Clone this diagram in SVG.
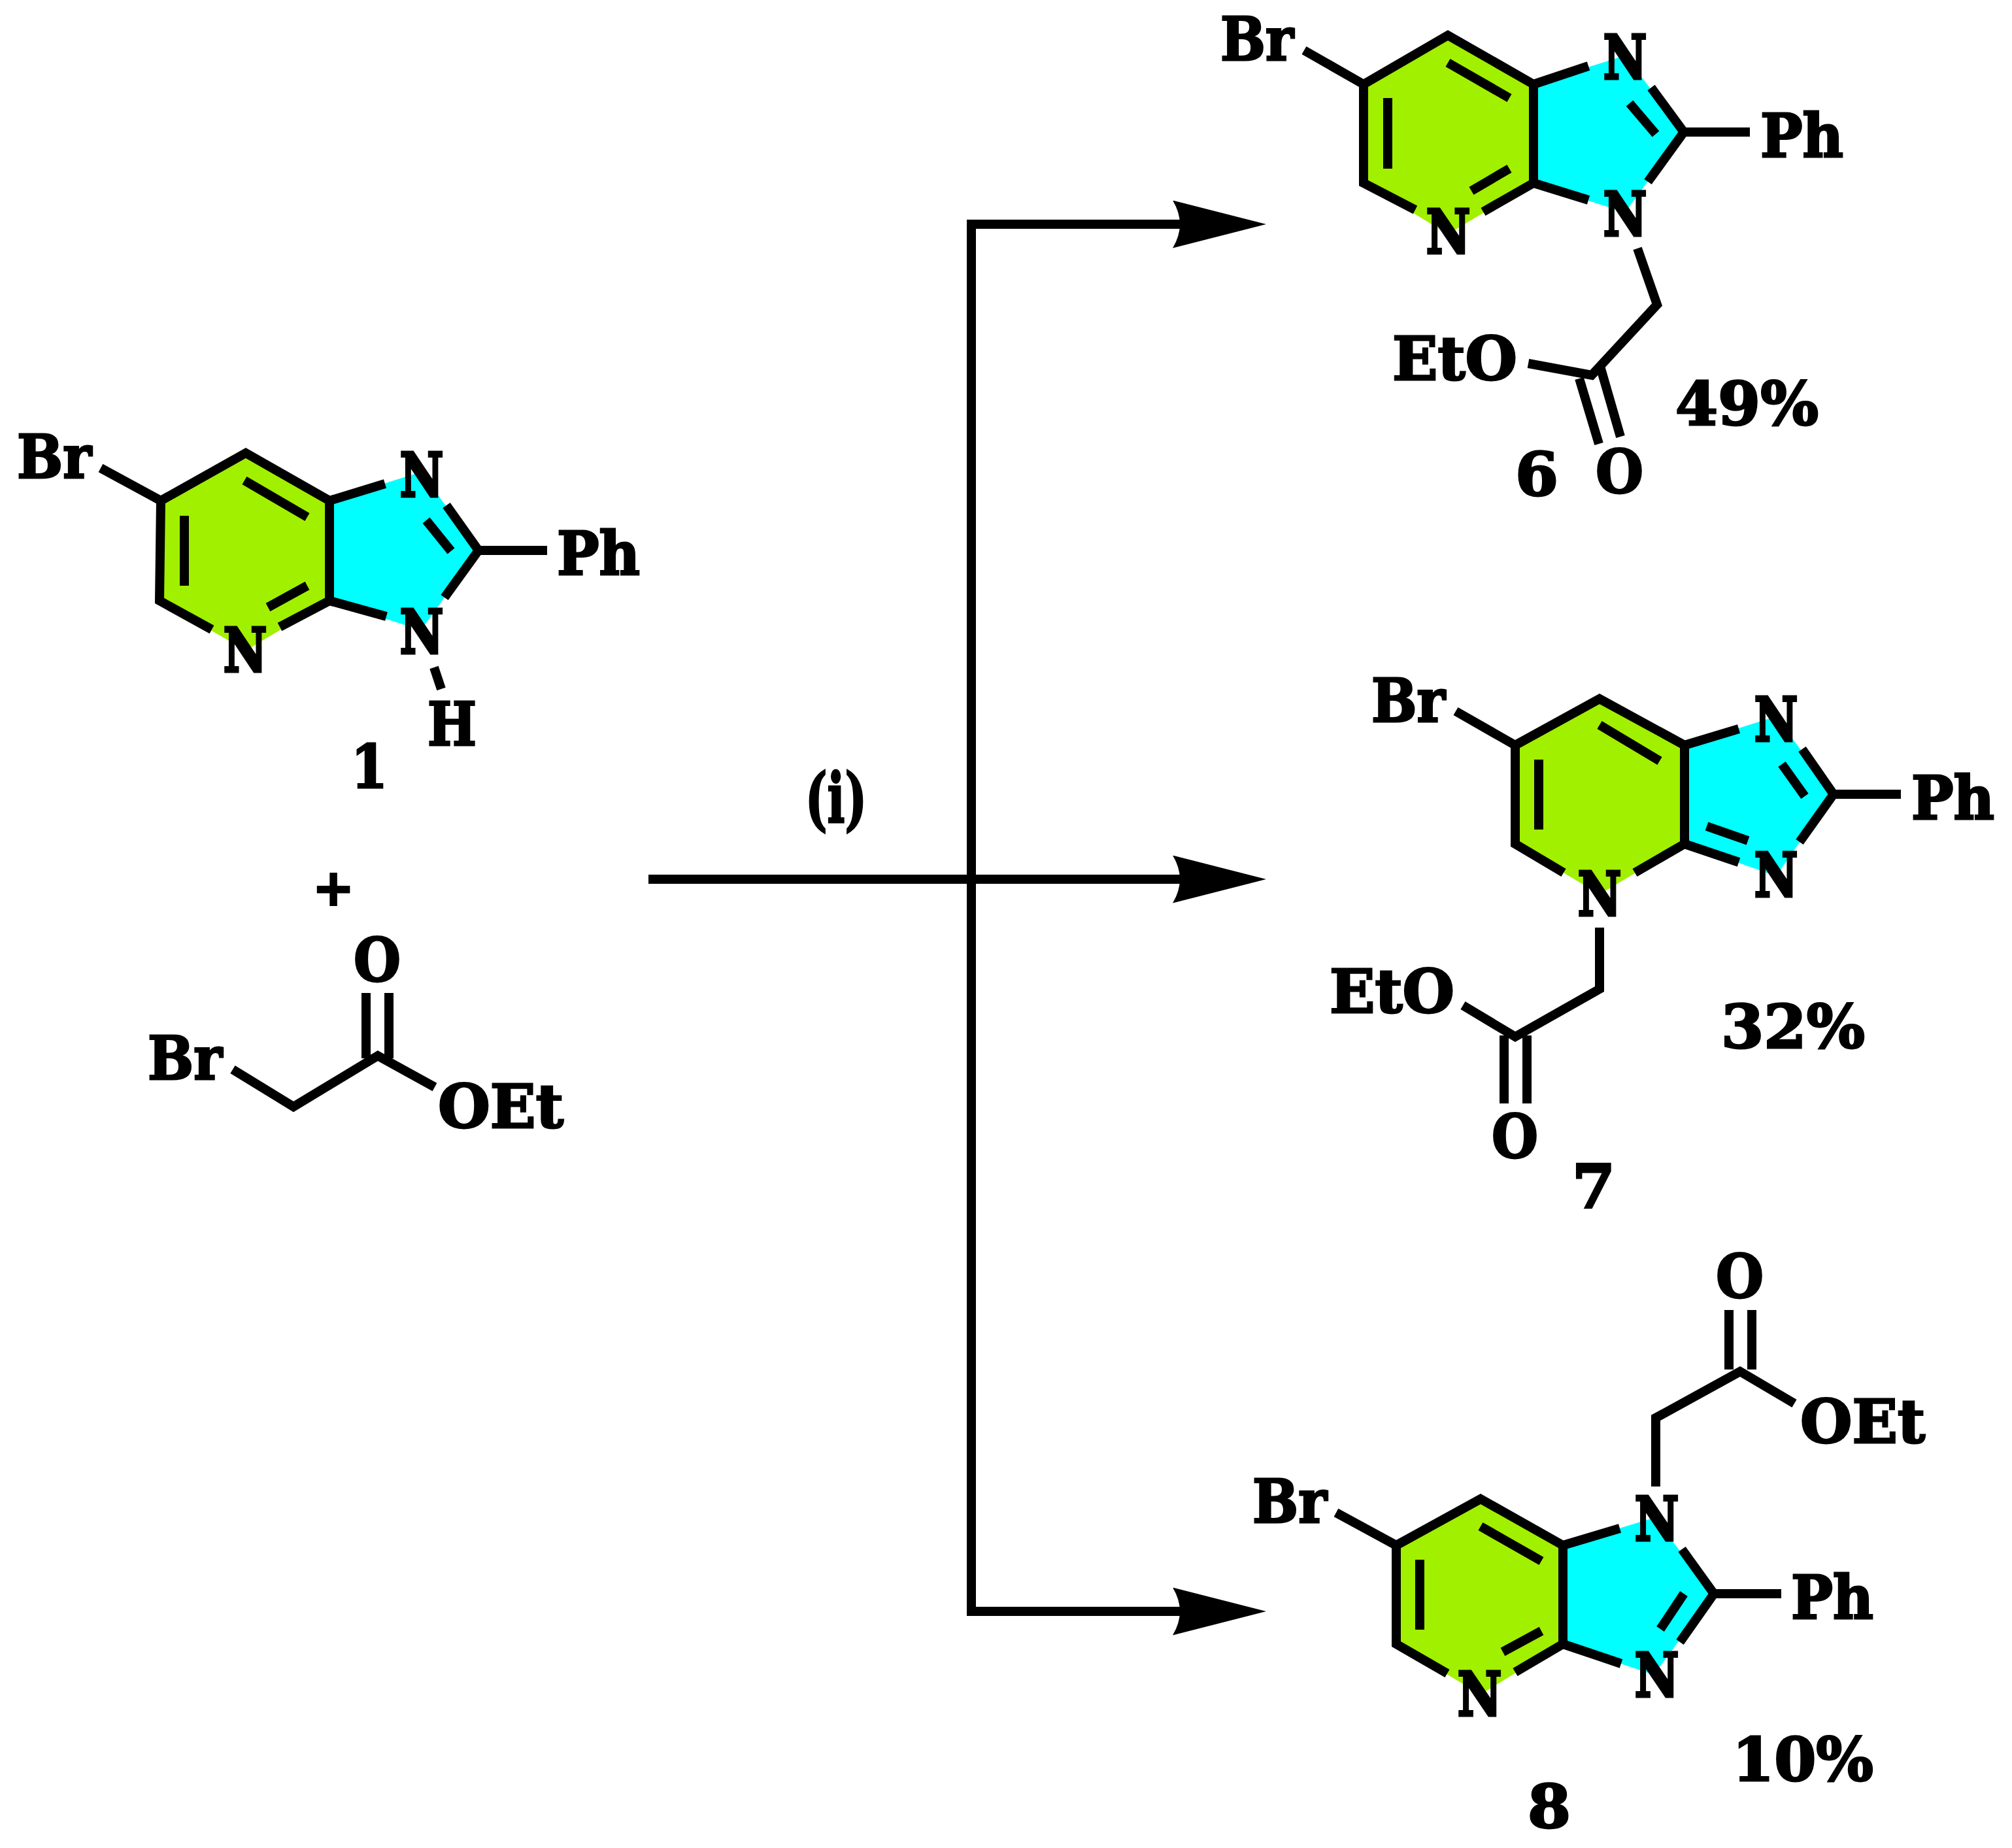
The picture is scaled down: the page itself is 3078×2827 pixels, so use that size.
<svg xmlns="http://www.w3.org/2000/svg" width="3078" height="2827" viewBox="0 0 3078 2827">
<style>
.b{fill:none;stroke:#000;stroke-width:14;stroke-linejoin:miter;stroke-miterlimit:10}
.c{fill:none;stroke:#000;stroke-width:14}
.g{fill:#a0f000}
.y{fill:#00ffff}
text{font-family:"DejaVu Serif","Liberation Serif",serif;font-weight:700;font-size:92px;fill:#000;stroke:#000;stroke-width:3}
text.n{stroke-width:5}
text.r{font-size:104px}
text.p{font-size:76px;stroke-width:3}
</style>
<defs>
<marker id="ah" markerUnits="userSpaceOnUse" markerWidth="143" markerHeight="73" viewBox="0 0 143 73" refX="21" refY="36.5" orient="auto"><path d="M143 36.5L0 0Q22 36.5 0 73Z" fill="#000"/></marker>
</defs>
<rect width="3078" height="2827" fill="#fff"/>
<g id="connectors">
<path class="c" d="M1486 1345V343H1815" marker-end="url(#ah)"/>
<path class="c" d="M992 1345H1815" marker-end="url(#ah)"/>
<path class="c" d="M1486 1345V2465H1815" marker-end="url(#ah)"/>
</g>
<g id="compound-1">
<polygon class="g" points="246,766 376,693 504,766 504,919 376,995 244,919"/>
<polygon class="y" points="504,766 644,722 732,842 644,964 504,919"/>
<path class="b" d="M324 963L244 919L246 766L376 693L504 766V919L428 959M154 716L246 766M374 735L470 791M282 789V896M410 929L470 896M504 766L589 740M683 773L732 842L680 914M504 919L591 943M652 796L690 843M732 842H837M664 1021L675 1054"/>
<text x="26" y="731" textLength="114" lengthAdjust="spacingAndGlyphs">Br</text>
<text class="n" x="612" y="759" textLength="66" lengthAdjust="spacingAndGlyphs">N</text>
<text x="852" y="879" textLength="127" lengthAdjust="spacingAndGlyphs">Ph</text>
<text class="n" x="612" y="999" textLength="66" lengthAdjust="spacingAndGlyphs">N</text>
<text class="n" x="342" y="1027" textLength="66" lengthAdjust="spacingAndGlyphs">N</text>
<text x="654" y="1140" textLength="75" lengthAdjust="spacingAndGlyphs">H</text>
<text x="537" y="1205" textLength="56" lengthAdjust="spacingAndGlyphs">1</text>
</g>
<g id="plus"><text class="p" x="510" y="1385" text-anchor="middle">+</text></g>
<g id="bromoacetate">
<path class="b" d="M356 1636L449 1693L578 1615L665 1663M560 1519V1619M595 1519V1619"/>
<text x="541" y="1501" textLength="72" lengthAdjust="spacingAndGlyphs">O</text>
<text x="226" y="1651" textLength="114" lengthAdjust="spacingAndGlyphs">Br</text>
<text x="670" y="1725" textLength="192" lengthAdjust="spacingAndGlyphs">OEt</text>
</g>
<g id="reagent"><text class="r" x="1232" y="1258" textLength="94" lengthAdjust="spacingAndGlyphs">(i)</text></g>
<g id="compound-6">
<polygon class="g" points="2086,129 2215,54 2346,129 2346,280 2215,358 2086,280"/>
<polygon class="y" points="2346,129 2486,85 2576,202 2486,325 2346,280"/>
<path class="b" d="M2165 321L2086 280V129L2215 54L2346 129V280L2269 324M1995 77L2086 129M2215 96L2309 150M2123 150V258M2251 292L2309 258M2346 129L2430 101M2526 134L2576 202L2521 278M2493 158L2533 205M2346 280L2430 306M2576 202H2677M2505 380L2535 466L2435 574L2338 556M2416 579L2446 679M2449 564L2479 668"/>
<text x="1867" y="92" textLength="112" lengthAdjust="spacingAndGlyphs">Br</text>
<text class="n" x="2453" y="120" textLength="66" lengthAdjust="spacingAndGlyphs">N</text>
<text x="2693" y="240" textLength="127" lengthAdjust="spacingAndGlyphs">Ph</text>
<text class="n" x="2453" y="360" textLength="66" lengthAdjust="spacingAndGlyphs">N</text>
<text class="n" x="2182" y="387" textLength="67" lengthAdjust="spacingAndGlyphs">N</text>
<text x="2130" y="581" textLength="191" lengthAdjust="spacingAndGlyphs">EtO</text>
<text x="2563" y="650" textLength="219" lengthAdjust="spacingAndGlyphs">49%</text>
<text x="2318" y="758" textLength="66" lengthAdjust="spacingAndGlyphs">6</text>
<text x="2441" y="754" textLength="73" lengthAdjust="spacingAndGlyphs">O</text>
</g>
<g id="compound-7">
<polygon class="g" points="2318,1140 2447,1069 2577,1140 2577,1291 2447,1368 2318,1291"/>
<polygon class="y" points="2577,1140 2717,1096 2805,1215 2717,1340 2577,1291"/>
<path class="b" d="M2392 1335L2318 1291V1140L2447 1069L2577 1140V1291L2501 1335M2227 1088L2318 1140M2447 1109L2539 1164M2354 1162V1269M2577 1140L2660 1115M2757 1146L2805 1215L2753 1288M2726 1169L2761 1218M2577 1291L2660 1319M2611 1264L2674 1286M2805 1215H2908M2447 1419V1513L2318 1586L2238 1538M2301 1584V1688M2336 1584V1688"/>
<text x="2098" y="1104" textLength="113" lengthAdjust="spacingAndGlyphs">Br</text>
<text class="n" x="2684" y="1133" textLength="66" lengthAdjust="spacingAndGlyphs">N</text>
<text x="2924" y="1253" textLength="127" lengthAdjust="spacingAndGlyphs">Ph</text>
<text class="n" x="2684" y="1371" textLength="66" lengthAdjust="spacingAndGlyphs">N</text>
<text class="n" x="2414" y="1400" textLength="66" lengthAdjust="spacingAndGlyphs">N</text>
<text x="2034" y="1549" textLength="191" lengthAdjust="spacingAndGlyphs">EtO</text>
<text x="2633" y="1603" textLength="220" lengthAdjust="spacingAndGlyphs">32%</text>
<text x="2282" y="1771" textLength="71" lengthAdjust="spacingAndGlyphs">O</text>
<text x="2405" y="1847" textLength="66" lengthAdjust="spacingAndGlyphs">7</text>
</g>
<g id="compound-8">
<polygon class="g" points="2136,2364 2265,2293 2391,2364 2391,2515 2265,2592 2136,2515"/>
<polygon class="y" points="2391,2364 2530,2322 2622,2438 2530,2562 2391,2515"/>
<path class="b" d="M2214 2560L2136 2515V2364L2265 2293L2391 2364V2515L2318 2558M2044 2314L2136 2364M2265 2335L2358 2388M2172 2386V2493M2299 2527L2358 2495M2391 2364L2478 2338M2573 2370L2622 2438L2570 2512M2576 2438L2540 2492M2391 2515L2480 2545M2622 2438H2725M2533 2274V2169L2662 2098L2745 2147M2645 2095V2004M2680 2095V2004"/>
<text x="1916" y="2329" textLength="114" lengthAdjust="spacingAndGlyphs">Br</text>
<text class="n" x="2501" y="2356" textLength="67" lengthAdjust="spacingAndGlyphs">N</text>
<text x="2740" y="2476" textLength="126" lengthAdjust="spacingAndGlyphs">Ph</text>
<text class="n" x="2501" y="2595" textLength="67" lengthAdjust="spacingAndGlyphs">N</text>
<text class="n" x="2230" y="2624" textLength="67" lengthAdjust="spacingAndGlyphs">N</text>
<text x="2625" y="1985" textLength="73" lengthAdjust="spacingAndGlyphs">O</text>
<text x="2754" y="2207" textLength="191" lengthAdjust="spacingAndGlyphs">OEt</text>
<text x="2650" y="2724" textLength="216" lengthAdjust="spacingAndGlyphs">10%</text>
<text x="2337" y="2796" textLength="66" lengthAdjust="spacingAndGlyphs">8</text>
</g>
</svg>
